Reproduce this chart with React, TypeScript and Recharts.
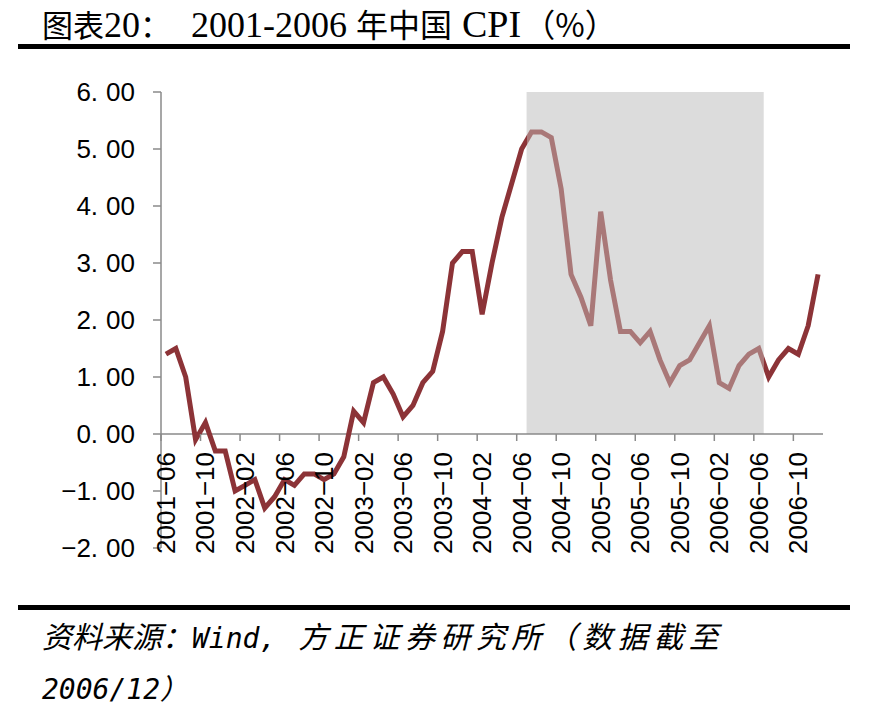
import React from 'react';
import { LineChart, Line, XAxis, YAxis, ReferenceArea, ReferenceLine } from 'recharts';

// monthly categories, 2001-06 .. 2006-12
const months = [
  '2001-06', '2001-07', '2001-08', '2001-09', '2001-10', '2001-11', '2001-12',
  '2002-01', '2002-02', '2002-03', '2002-04', '2002-05', '2002-06', '2002-07', '2002-08', '2002-09', '2002-10', '2002-11', '2002-12',
  '2003-01', '2003-02', '2003-03', '2003-04', '2003-05', '2003-06', '2003-07', '2003-08', '2003-09', '2003-10', '2003-11', '2003-12',
  '2004-01', '2004-02', '2004-03', '2004-04', '2004-05', '2004-06', '2004-07', '2004-08', '2004-09', '2004-10', '2004-11', '2004-12',
  '2005-01', '2005-02', '2005-03', '2005-04', '2005-05', '2005-06', '2005-07', '2005-08', '2005-09', '2005-10', '2005-11', '2005-12',
  '2006-01', '2006-02', '2006-03', '2006-04', '2006-05', '2006-06', '2006-07', '2006-08', '2006-09', '2006-10', '2006-11', '2006-12',
];

// CPI yoy (%)
const cpi = [
  1.4, 1.5, 1.0, -0.1, 0.2, -0.3, -0.3,
  -1.0, -0.9, -0.8, -1.3, -1.1, -0.8, -0.9, -0.7, -0.7, -0.8, -0.7, -0.4,
  0.4, 0.2, 0.9, 1.0, 0.7, 0.3, 0.5, 0.9, 1.1, 1.8, 3.0, 3.2,
  3.2, 2.1, 3.0, 3.8, 4.4, 5.0, 5.3, 5.3, 5.2, 4.3, 2.8, 2.4,
  1.9, 3.9, 2.7, 1.8, 1.8, 1.6, 1.8, 1.3, 0.9, 1.2, 1.3, 1.6,
  1.9, 0.9, 0.8, 1.2, 1.4, 1.5, 1.0, 1.3, 1.5, 1.4, 1.9, 2.8,
];

const xTickLabels = [
  '2001-06', '2001-10', '2002-02', '2002-06', '2002-10', '2003-02', '2003-06', '2003-10', '2004-02',
  '2004-06', '2004-10', '2005-02', '2005-06', '2005-10', '2006-02', '2006-06', '2006-10',
];
const yTicks = [-2, -1, 0, 1, 2, 3, 4, 5, 6];

// shaded period
const shadeFrom = '2004-07';
const shadeTo = '2006-06';

const rows = months.map((m, i) => ({ idx: i, month: m, cpi: cpi[i] }));

const W = 874;
const H = 708;
const PLOT_LEFT = 161;
const PLOT_RIGHT = 823;
const PLOT_TOP = 92;
const PLOT_BOTTOM = 548;
const Y_MIN = -2;
const Y_MAX = 6;
const ZERO_Y = PLOT_TOP + ((PLOT_BOTTOM - PLOT_TOP) * Y_MAX) / (Y_MAX - Y_MIN);
const BAND = (PLOT_RIGHT - PLOT_LEFT) / months.length;

const AXIS = '#8a8a8a';
const LINE_DARK = '#8c3337';
const LINE_LIGHT = '#a97878';
const SHADE = '#dcdcdc';
const SANS = "'Liberation Sans', Arial, sans-serif";
const SERIF = "'Liberation Serif', serif";
const MONO = "'DejaVu Sans Mono', monospace";
const CJK = "'Noto Sans CJK SC', sans-serif";

const shadeX1 = months.indexOf(shadeFrom) - 0.5;
const shadeX2 = months.indexOf(shadeTo) + 0.5;
const last = months.length - 1;
const gradA = shadeX1 / last;
const gradB = shadeX2 / last;

const XTick = (props: any) => {
  const { x, payload } = props;
  const label = months[payload.value].replace('-', '\u2212');
  const bx = x - BAND / 2;
  return (
    <g>
      <line x1={bx} x2={bx} y1={ZERO_Y} y2={ZERO_Y + 7} stroke={AXIS} strokeWidth={1.5} />
      <text
        transform={`translate(${x + 9},${ZERO_Y + 18}) rotate(-90)`}
        textAnchor="end"
        fontFamily={SANS}
        fontSize={26}
        fill="#000"
      >
        {label}
      </text>
    </g>
  );
};

const YTick = (props: any) => {
  const { y, payload } = props;
  const v: number = payload.value;
  const [a, b] = Math.abs(v).toFixed(2).split('.');
  return (
    <text x={PLOT_LEFT - 26} y={y} dy="0.36em" textAnchor="end" fontFamily={SANS} fontSize={26} fill="#000">
      {(v < 0 ? '\u2212' : '') + a + '.'}
      <tspan dx={8}>{b}</tspan>
    </text>
  );
};

export default function App() {
  return (
    <div style={{ position: 'absolute', left: 0, top: 0, width: W, height: H, background: '#fff' }}>
      <svg width={0} height={0} style={{ position: 'absolute' }}>
        <defs>
          <linearGradient id="cpiStroke" x1="0" y1="0" x2="1" y2="0">
            <stop offset={gradA} stopColor={LINE_DARK} />
            <stop offset={gradA} stopColor={LINE_LIGHT} />
            <stop offset={gradB} stopColor={LINE_LIGHT} />
            <stop offset={gradB} stopColor={LINE_DARK} />
          </linearGradient>
        </defs>
      </svg>
      <div style={{ position: 'absolute', left: 0, top: 0 }}>
        <LineChart
          width={W}
          height={H}
          data={rows}
          margin={{ top: PLOT_TOP, right: W - PLOT_RIGHT, bottom: H - PLOT_BOTTOM - 30, left: 0 }}
        >
          <XAxis
            dataKey="idx"
            type="number"
            domain={[-0.5, last + 0.5]}
            ticks={xTickLabels.map((l) => months.indexOf(l))}
            interval={0}
            height={30}
            axisLine={false}
            tickLine={false}
            tick={<XTick />}
          />
          <YAxis
            type="number"
            domain={[Y_MIN, Y_MAX]}
            ticks={yTicks}
            interval={0}
            width={PLOT_LEFT}
            axisLine={{ stroke: AXIS, strokeWidth: 1.5 }}
            tickLine={{ stroke: AXIS, strokeWidth: 1.5 }}
            tickSize={8}
            tick={<YTick />}
          />
          <ReferenceArea x1={shadeX1} x2={shadeX2} y1={0} y2={Y_MAX} fill={SHADE} fillOpacity={1} stroke="none" />
          <ReferenceLine y={0} stroke={AXIS} strokeWidth={1.5} />
          <Line
            type="linear"
            dataKey="cpi"
            stroke="url(#cpiStroke)"
            strokeWidth={5}
            dot={false}
            activeDot={false}
            isAnimationActive={false}
          />
        </LineChart>
      </div>
      <svg width={W} height={H} style={{ position: 'absolute', left: 0, top: 0, pointerEvents: 'none' }}>
        <text x={42} y={37} fill="#000">
          <tspan fontFamily={CJK} fontSize={31}>图表</tspan>
          <tspan fontFamily={SERIF} fontSize={36}>20</tspan>
          <tspan fontFamily={CJK} fontSize={31}>：</tspan>
          <tspan fontFamily={SERIF} fontSize={36} dx={20}>2001-2006</tspan>
          <tspan fontFamily={CJK} fontSize={32} dx={9}>年中国</tspan>
          <tspan fontFamily={SERIF} fontSize={38} dx={10}>CPI</tspan>
          <tspan fontFamily={CJK} fontSize={32} dx={2}>（%）</tspan>
        </text>
        <rect x={18} y={44} width={832} height={5} fill="#000" />
        <rect x={18} y={605} width={832} height={5} fill="#000" />
        <text x={42} y={648} fill="#000" fontStyle="italic">
          <tspan fontFamily={CJK} fontSize={30}>资料来源：</tspan>
          <tspan fontFamily={MONO} fontSize={28}>Wind,</tspan>
          <tspan fontFamily={CJK} fontSize={30} dx={22} letterSpacing={5.5}>方正证券研究所（数据截至</tspan>
        </text>
        <text x={42} y={699} fill="#000" fontStyle="italic">
          <tspan fontFamily={MONO} fontSize={28}>2006/12</tspan>
          <tspan fontFamily={CJK} fontSize={28}>）</tspan>
        </text>
      </svg>
    </div>
  );
}
